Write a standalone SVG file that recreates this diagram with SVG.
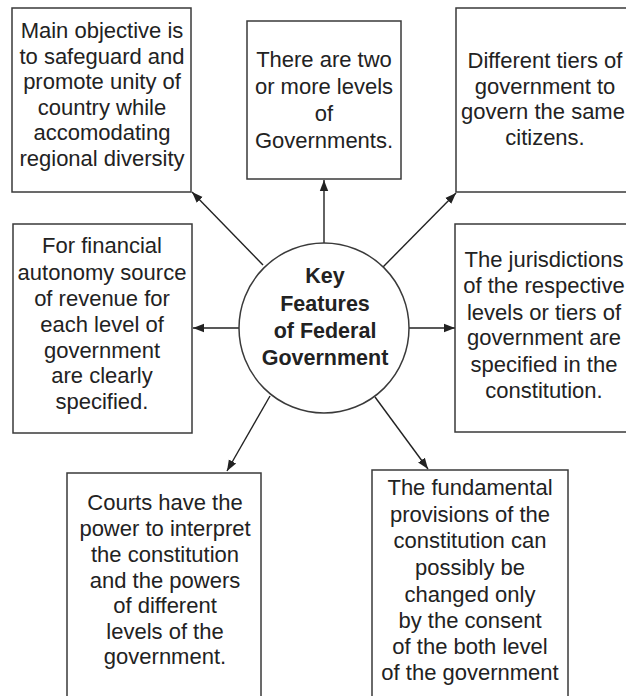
<svg xmlns="http://www.w3.org/2000/svg" width="626" height="696" viewBox="0 0 626 696">
<style>
.box{fill:#fff;stroke:#3a3a3a;stroke-width:1.5}
.t{font-family:"Liberation Sans",Arial,sans-serif;font-size:22px;fill:#222;text-anchor:middle}
.c{font-family:"Liberation Sans",Arial,sans-serif;font-size:21.5px;font-weight:bold;fill:#222;text-anchor:middle}
.ln{stroke:#222;stroke-width:1.4;fill:none;marker-end:url(#arr)}
</style>
<defs>
<marker id="arr" viewBox="0 0 10 10" refX="10" refY="5" markerWidth="11" markerHeight="11" orient="auto" markerUnits="userSpaceOnUse">
<path d="M0,1.2 L10,5 L0,8.8 Z" fill="#222"/>
</marker>
</defs>
<rect width="626" height="696" fill="#fff"/>
<g id="connectors">
<line class="ln" x1="263" y1="265" x2="192" y2="192"/>
<line class="ln" x1="324" y1="243" x2="324" y2="180"/>
<line class="ln" x1="383" y1="267" x2="456" y2="193"/>
<line class="ln" x1="239" y1="328" x2="193" y2="328"/>
<line class="ln" x1="409" y1="328" x2="455" y2="328"/>
<line class="ln" x1="270" y1="396" x2="227" y2="471"/>
<line class="ln" x1="375" y1="397" x2="428" y2="469"/>
</g>
<g id="center">
<circle cx="324" cy="328" r="85" fill="#fff" stroke="#3a3a3a" stroke-width="1.5"/>
<text class="c" x="325" y="283">Key</text>
<text class="c" x="325" y="311">Features</text>
<text class="c" x="325" y="338">of Federal</text>
<text class="c" x="325" y="365">Government</text>
</g>
<g id="node1">
<rect class="box" x="12" y="8" width="179" height="184"/>
<text class="t" x="102" y="38">Main objective is</text>
<text class="t" x="102" y="64">to safeguard and</text>
<text class="t" x="102" y="89">promote unity of</text>
<text class="t" x="102" y="115">country while</text>
<text class="t" x="102" y="140">accomodating</text>
<text class="t" x="102" y="166">regional diversity</text>
</g>
<g id="node2">
<rect class="box" x="247" y="21" width="154" height="158"/>
<text class="t" x="324" y="67">There are two</text>
<text class="t" x="324" y="94">or more levels</text>
<text class="t" x="324" y="121">of</text>
<text class="t" x="324" y="148">Governments.</text>
</g>
<g id="node3">
<rect class="box" x="456" y="8" width="190" height="184"/>
<text class="t" x="545" y="68">Different tiers of</text>
<text class="t" x="545" y="94">government to</text>
<text class="t" x="543" y="119">govern the same</text>
<text class="t" x="545" y="145">citizens.</text>
</g>
<g id="node4">
<rect class="box" x="13" y="224" width="179" height="209"/>
<text class="t" x="102" y="253">For financial</text>
<text class="t" x="102" y="280">autonomy source</text>
<text class="t" x="102" y="306">of revenue for</text>
<text class="t" x="102" y="332">each level of</text>
<text class="t" x="102" y="358">government</text>
<text class="t" x="102" y="383">are clearly</text>
<text class="t" x="102" y="409">specified.</text>
</g>
<g id="node5">
<rect class="box" x="455" y="224" width="190" height="208"/>
<text class="t" x="544" y="267">The jurisdictions</text>
<text class="t" x="544" y="293">of the respective</text>
<text class="t" x="544" y="320">levels or tiers of</text>
<text class="t" x="544" y="345">government are</text>
<text class="t" x="544" y="372">specified in the</text>
<text class="t" x="544" y="398">constitution.</text>
</g>
<g id="node6">
<rect class="box" x="67" y="473" width="194" height="240"/>
<text class="t" x="165" y="510">Courts have the</text>
<text class="t" x="165" y="536">power to interpret</text>
<text class="t" x="165" y="562">the constitution</text>
<text class="t" x="165" y="588">and the powers</text>
<text class="t" x="165" y="613">of different</text>
<text class="t" x="165" y="639">levels of the</text>
<text class="t" x="165" y="664">government.</text>
</g>
<g id="node7">
<rect class="box" x="372" y="470" width="196" height="240"/>
<text class="t" x="470" y="495">The fundamental</text>
<text class="t" x="470" y="522">provisions of the</text>
<text class="t" x="470" y="548">constitution can</text>
<text class="t" x="470" y="575">possibly be</text>
<text class="t" x="470" y="602">changed only</text>
<text class="t" x="470" y="628">by the consent</text>
<text class="t" x="470" y="654">of the both level</text>
<text class="t" x="470" y="680">of the government</text>
</g>
</svg>
